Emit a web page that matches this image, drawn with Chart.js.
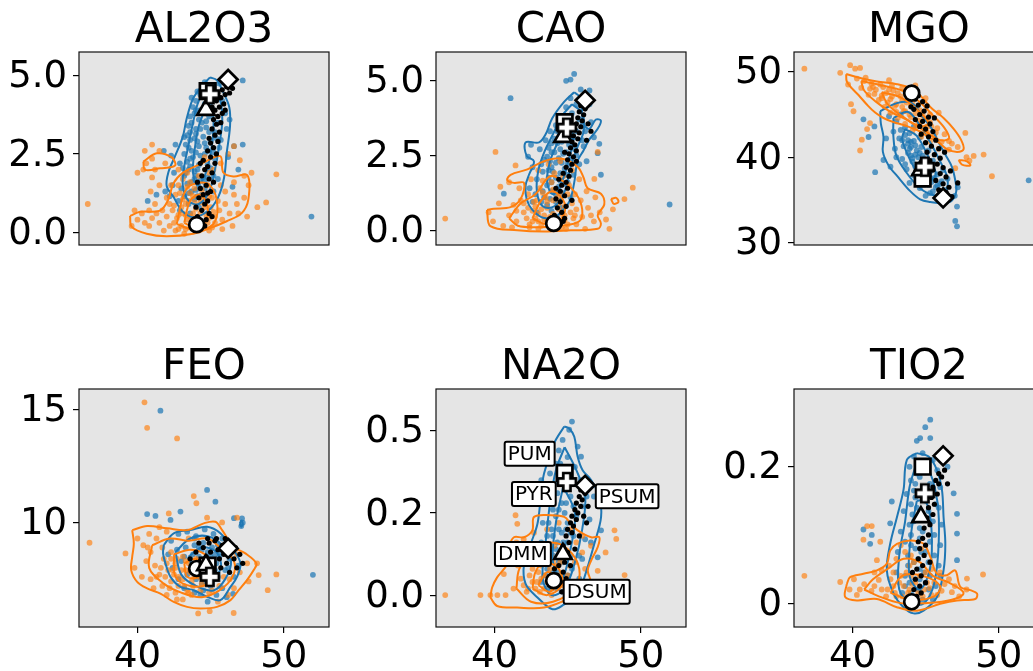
<!DOCTYPE html>
<html>
<head>
<meta charset="utf-8">
<script src="https://cdn.jsdelivr.net/npm/chart.js@4.4.1/dist/chart.umd.min.js"></script>
<style>
  body { margin: 0; width: 1033px; height: 671px; overflow: hidden; background: #fff; position: relative; }
  canvas { position: absolute; }
</style>
</head>
<body>
<canvas id="al2o3_chart" width="345" height="330" style="left:0;top:0"></canvas>
<canvas id="cao_chart" width="357" height="330" style="left:345px;top:0"></canvas>
<canvas id="mgo_chart" width="370" height="330" style="left:690px;top:0"></canvas>
<canvas id="feo_chart" width="345" height="334" style="left:0;top:337px"></canvas>
<canvas id="na2o_chart" width="357" height="334" style="left:345px;top:337px"></canvas>
<canvas id="tio2_chart" width="370" height="334" style="left:690px;top:337px"></canvas>
<script>
// shared x axis (SiO2)
const xRange = [36.0, 53.1];
const xTicks = [40, 50];

// reference compositions, drawn as white markers
const refNames = ["DSUM", "DMM", "PUM", "PYR", "PSUM"];
const refSiO2 = [44.05, 44.68, 44.8, 44.95, 46.2];
const refAl2O3 = [0.24, 3.91, 4.51, 4.41, 4.88];
const refCaO = [0.23, 3.11, 3.60, 3.42, 4.33];
const refMgO = [47.5, 38.5, 37.5, 38.9, 35.25];
const refFeO = [7.97, 8.12, 8.1, 7.6, 8.86];
const refNa2O = [0.044, 0.125, 0.372, 0.344, 0.334];
const refTiO2 = [0.002, 0.126, 0.2, 0.161, 0.216];

// ---------- AL2O3 ----------
const al2o3Range = [-0.41, 5.76];
const al2o3Ticks = [0, 2.5, 5];
const al2o3TickLabels = ["0.0", "2.5", "5.0"];
const al2o3Blue = [[44.6,4.8],[44.9,4.6],[45.2,4.7],[45.6,4.75],[46.5,4.85],[46.3,4.7],[44.3,4.4],[44.8,4.3],[45.4,4.4],[44.0,4.2],[45.8,4.2],[43.8,4.0],[44.5,3.9],[45.1,3.95],[46.0,3.8],[43.6,3.7],[44.2,3.6],[44.9,3.7],[45.5,3.5],[46.3,3.6],[43.5,3.4],[44.0,3.3],[44.7,3.35],[45.3,3.2],[46.1,3.3],[43.4,3.1],[43.9,3.0],[44.5,3.05],[45.0,2.9],[45.7,2.95],[43.3,2.8],[44.2,2.75],[44.8,2.6],[45.6,2.7],[46.6,2.75],[42.6,2.8],[43.2,2.5],[43.8,2.4],[44.5,2.3],[45.3,2.35],[46.2,2.4],[42.9,2.2],[43.6,2.1],[44.1,2.0],[45.0,2.05],[42.5,1.9],[43.2,1.8],[43.9,1.7],[44.6,1.6],[45.5,1.7],[42.4,1.5],[43.0,1.4],[43.7,1.3],[44.4,1.2],[45.2,1.3],[41.9,1.3],[42.2,1.15],[41.3,1.2],[40.7,1.0],[42.8,1.0],[43.5,0.9],[44.2,0.8],[42.9,0.7],[43.6,0.6],[51.9,0.5],[47.2,2.8],[46.9,2.0],[46.5,1.45],[41.8,2.6],[42.3,2.45],[47.2,4.85],[43.2,3.04],
  [44.1,4.5],[44.6,4.1],[43.9,3.8],[44.4,3.5],[44.0,3.15],[44.6,2.85],[43.7,2.6],[44.3,2.45],[43.4,2.25],[44.8,2.15],[43.9,1.95],[44.3,1.65],[43.4,1.55],[44.0,1.35],[43.2,1.15],[43.9,1.05],[44.6,1.4],[45.2,1.8],[45.2,2.55],[45.4,3.0],[44.3,3.9],[45.0,4.15],[43.6,2.95],[44.7,3.55],[43.1,2.05],
  [43.7,4.3],[44.4,4.6],[44.0,3.9],[44.7,3.8],[43.7,3.5],[44.3,3.3],[44.9,3.2],[43.6,3.2],[44.1,2.9],[44.7,2.7],[43.5,2.7],[44.0,2.55],[44.6,2.5],[43.6,2.35],[44.2,2.15],[44.7,2.0],[43.5,2.0],[44.0,1.8],[44.5,1.75],[43.7,1.6],[44.2,1.45],[44.8,1.75],[43.5,1.25],[44.1,1.15],[43.3,1.9]];
const al2o3Orange = [[42.5,0.3],[43.0,0.2],[43.4,0.4],[42.0,0.5],[41.5,0.3],[41.0,0.45],[40.5,0.3],[40.0,0.4],[39.6,0.2],[44.8,0.3],[45.3,0.5],[45.8,0.4],[46.3,0.6],[46.8,0.9],[47.3,1.1],[47.6,1.5],[47.3,1.8],[46.6,1.6],[46.0,1.3],[45.5,1.0],[45.0,0.8],[44.5,1.1],[43.9,1.4],[43.5,1.0],[43.0,0.8],[42.6,1.2],[42.2,0.9],[41.7,0.7],[41.2,0.9],[40.8,0.7],[43.8,0.6],[44.2,1.8],[43.6,1.6],[44.8,1.5],[45.2,2.0],[45.7,2.2],[43.1,1.7],[42.8,2.0],[44.0,0.1],[43.2,-0.05],[41.8,0.05],[45.8,0.1],[46.5,0.2],[40.3,0.6],[39.8,0.7],[40.6,2.2],[41.0,2.35],[41.5,2.6],[41.2,2.0],[40.0,1.9],[40.5,2.6],[41.0,2.8],[41.9,2.2],[36.6,0.9],[49.5,1.85],[48.8,0.95],[48.2,0.8],[47.8,1.9],[47.0,2.3],[46.6,2.75],[46.2,2.5],[47.5,0.5],[44.6,2.4],[42.3,1.5],[41.5,1.5],[40.9,1.3],[45.6,0.7],[44.1,0.4],[42.8,0.55],[43.7,0.25],
  [42.2,0.2],[42.8,0.1],[43.6,0.15],[44.4,0.2],[45.1,0.15],[42.4,0.7],[43.3,0.55],[44.0,0.75],[44.7,0.55],[45.3,0.3],[42.0,1.1],[42.9,1.25],[43.6,1.25],[44.3,0.95],[45.1,1.1],[41.3,0.6],[40.8,0.2],[46.0,0.9],[46.6,1.2],[45.7,1.5],[44.9,1.9],[43.4,1.9],[41.0,1.75],[40.4,2.0],[46.9,0.6],
  [42.6,0.05],[43.3,0.1],[44.2,0.05],[44.9,0.05],[42.7,0.45],[43.1,0.6],[43.6,0.5],[44.3,0.6],[44.9,0.45],[42.5,0.85],[43.3,0.9],[43.9,0.95],[44.6,0.8],[45.2,0.65],[43.1,1.05],[43.8,1.15],[44.4,1.35],[44.9,1.15],[43.4,1.45],[42.8,1.5]];
const al2o3Black = [[44.3,0.3],[44.7,0.4],[44.1,0.5],[44.9,0.6],[44.4,0.7],[44.0,0.8],[44.6,0.9],[44.8,1.0],[44.2,1.1],[44.5,1.2],[45.0,1.3],[44.3,1.4],[44.7,1.5],[44.1,1.6],[44.9,1.7],[44.4,1.8],[45.1,1.9],[44.6,2.0],[44.8,2.1],[45.3,2.2],[44.5,2.3],[45.0,2.4],[45.4,2.5],[44.8,2.6],[45.2,2.7],[45.0,2.85],[45.5,2.9],[44.9,3.0],[45.3,3.1],[45.6,3.2],[45.1,3.3],[45.4,3.45],[45.7,3.5],[45.2,3.6],[45.5,3.7],[45.8,3.8],[45.3,3.9],[45.6,4.0],[45.9,4.1],[45.4,4.2],[45.7,4.3],[46.0,4.4],[45.5,4.45],[45.8,4.55],[46.1,4.65],[45.6,4.3],[44.6,0.2],[45.1,0.5],[43.9,0.35],[44.8,1.25],[44.3,2.2],[45.2,1.6],[46.0,3.9],[46.3,4.45],[45.1,4.0],[46.5,4.6]];
const al2o3BlueContours = [
  [[44.96,4.95],[44.28,4.6],[43.78,4.25],[43.37,3.64],[43.09,3.04],[42.57,2.43],[42.11,1.91],[42.0,1.47],[42.46,1.13],[43.03,0.69],[43.82,0.48],[44.85,0.69],[45.53,1.13],[45.92,1.73],[46.1,2.52],[46.33,3.39],[46.28,3.99],[45.83,4.51],[45.42,4.86]],
  [[44.9,4.6],[44.2,4.2],[43.8,3.5],[43.5,2.8],[43.2,2.1],[43.1,1.5],[43.5,1.0],[44.2,0.9],[44.9,1.3],[45.3,2.0],[45.6,2.8],[45.8,3.6],[45.6,4.3]],
  [[44.7,4.0],[44.2,3.4],[43.9,2.6],[43.8,1.9],[44.1,1.5],[44.6,1.8],[45.0,2.5],[45.2,3.3],[45.1,3.9]]
];
const al2o3OrangeContours = [
  [[39.49,0.52],[39.61,0.17],[40.63,-0.05],[42.0,-0.13],[43.82,-0.05],[44.96,0.13],[46.1,0.35],[47.13,0.61],[47.58,1.04],[47.52,1.82],[46.56,1.78],[45.87,1.91],[45.65,2.43],[44.28,2.17],[43.14,1.91],[42.46,1.56],[42.11,1.04],[41.54,0.69],[40.18,0.65]],
  [[40.4,2.26],[41.32,2.52],[42.34,2.39],[42.57,2.13],[41.54,2.04],[40.52,1.99]],
  [[42.68,0.26],[43.37,1.39],[44.73,1.56],[45.42,1.04],[45.19,0.26],[43.82,0.09]],
  [[43.2,0.3],[43.6,1.0],[44.3,1.2],[44.8,0.8],[44.6,0.3],[43.9,0.15]]
];

// ---------- CAO ----------
const caoRange = [-0.49, 5.94];
const caoTicks = [0, 2.5, 5];
const caoTickLabels = ["0.0", "2.5", "5.0"];
const caoBlue = [[45.45,5.21],[44.9,4.98],[45.2,5.02],[46.5,4.66],[45.9,4.69],[41.1,4.4],[51.98,0.86],[47.17,2.88],[47.06,2.57],[47.28,1.85],[40.64,1.22],[45.2,4.4],[45.6,4.2],[44.9,4.1],[45.3,3.9],[44.5,3.8],[45.8,3.7],[46.6,3.6],[44.2,3.5],[45.0,3.4],[46.2,3.3],[43.8,3.3],[44.6,3.2],[45.4,3.1],[46.8,3.1],[43.5,3.0],[44.3,2.9],[45.1,2.85],[46.1,2.8],[42.5,2.85],[43.1,2.7],[43.9,2.6],[44.7,2.55],[45.6,2.5],[42.3,2.45],[43.4,2.35],[44.2,2.25],[45.0,2.2],[46.3,2.3],[42.6,2.1],[43.7,2.0],[44.5,1.9],[45.4,1.85],[42.9,1.7],[43.9,1.6],[44.8,1.55],[42.4,1.4],[43.3,1.3],[44.2,1.2],[45.2,1.1],[42.6,0.95],[43.6,0.85],[44.6,0.75],[42.9,0.6],[46.5,4.2],[46.0,3.5],
  [44.6,3.5],[44.1,3.05],[44.9,3.0],[43.7,2.75],[44.5,2.7],[43.6,2.45],[44.4,2.4],[45.2,2.35],[43.2,2.2],[43.9,2.1],[44.8,2.05],[43.3,1.95],[44.2,1.75],[43.6,1.5],[44.4,1.45],[42.8,1.2],[43.8,1.05],[44.5,1.0],[43.2,0.95],[43.9,0.65],[45.6,3.3],[46.0,3.0],[45.8,2.2],[44.3,0.4],[45.1,3.65],
  [44.8,3.75],[44.3,3.3],[44.8,3.3],[43.9,2.9],[44.6,2.95],[44.1,2.6],[44.9,2.6],[43.8,2.3],[44.6,2.25],[44.0,1.95],[44.9,1.85],[43.7,1.75],[44.5,1.65],[43.9,1.3],[44.6,1.25],[43.4,1.1],[44.2,0.95],[45.0,1.6],[45.5,2.7],[45.2,3.0]];
const caoOrange = [[36.63,0.39],[40.07,2.61],[41.44,2.16],[49.46,1.42],[48.89,1.04],[47.86,0.05],[47.63,0.36],[47.06,2.61],[46.83,1.71],[40.3,0.9],[39.9,0.3],[39.6,0.6],[40.4,1.45],[41.0,1.6],[48.1,0.7],[41.0,0.5],[41.5,0.3],[42.0,0.6],[42.4,0.2],[42.8,0.4],[43.2,0.7],[43.6,0.3],[44.0,0.55],[44.4,0.9],[44.8,0.35],[45.2,0.6],[45.6,0.2],[46.0,0.45],[46.4,0.75],[46.8,0.3],[47.2,0.6],[41.3,0.85],[41.8,1.0],[42.3,1.2],[42.7,0.95],[43.1,1.4],[43.5,1.1],[43.9,1.6],[44.3,1.3],[44.7,1.8],[45.1,1.5],[45.5,1.2],[45.9,1.0],[46.3,1.3],[46.9,1.1],[42.5,1.7],[43.0,2.0],[43.7,2.2],[44.5,2.3],[45.3,2.0],[45.8,1.7],[41.7,1.4],[41.2,0.1],[43.0,0.05],[44.6,0.1],[46.2,0.05],[40.6,0.15],
  [42.2,0.4],[42.6,0.65],[43.0,0.3],[43.4,0.5],[43.8,0.15],[44.2,0.35],[44.6,0.55],[45.0,0.2],[45.4,0.4],[42.0,0.9],[42.8,0.8],[43.6,0.75],[44.0,1.0],[44.8,0.8],[45.6,0.7],[43.3,1.65],[44.1,1.9],[45.0,1.2],[46.6,0.5],[41.5,0.65],
  [42.4,0.1],[43.2,0.15],[44.0,0.1],[44.9,0.05],[42.6,0.3],[43.4,0.35],[44.0,0.3],[44.8,0.5],[42.3,0.75],[43.0,0.55],[43.8,0.45],[44.4,0.7],[45.3,0.9],[42.9,1.0],[43.6,0.95],[44.3,1.1],[43.3,1.25],[44.0,1.35],[44.7,1.2],[45.5,0.5]];
const caoBlack = [[44.0,0.15],[44.5,0.2],[44.3,0.35],[44.8,0.4],[44.1,0.5],[44.6,0.6],[44.3,0.75],[44.9,0.8],[44.5,0.95],[44.2,1.05],[44.8,1.15],[44.5,1.3],[45.0,1.4],[44.6,1.5],[44.9,1.6],[44.4,1.7],[45.1,1.8],[44.7,1.9],[45.2,2.0],[44.9,2.1],[45.3,2.2],[45.0,2.35],[45.4,2.45],[45.1,2.55],[45.6,2.65],[45.2,2.75],[45.5,2.85],[45.3,2.95],[45.7,3.05],[45.4,3.15],[45.8,3.25],[45.5,3.35],[45.9,3.45],[45.6,3.55],[46.0,3.65],[45.7,3.75],[46.1,3.85],[45.8,3.95],[46.2,4.05],[46.4,3.55],[46.6,3.3],[45.9,4.15],[44.7,0.3],[45.3,1.0],[44.2,1.4],[45.6,2.3],[46.3,3.0],[44.8,2.6]];
const caoBlueContours = [
  [[45.45,4.6],[44.76,4.28],[43.96,3.74],[43.5,3.2],[43.05,2.93],[42.13,2.93],[42.2,2.48],[42.7,2.3],[42.36,1.85],[42.13,1.49],[42.2,1.04],[42.59,0.68],[43.39,0.41],[44.31,0.5],[45.11,0.95],[45.45,1.58],[45.68,2.3],[46.09,2.66],[46.48,3.02],[47.06,3.38],[47.28,3.65],[46.94,3.69],[46.48,3.38],[46.09,3.56],[45.96,4.1],[45.8,4.46]],
  [[45.3,4.2],[44.6,3.8],[44.0,3.2],[43.4,2.6],[43.0,2.0],[42.9,1.3],[43.3,0.8],[44.1,0.8],[44.8,1.3],[45.2,2.1],[45.7,2.8],[46.1,3.3],[46.0,3.9]],
  [[45.0,3.6],[44.4,3.0],[43.8,2.3],[43.6,1.6],[44.0,1.2],[44.6,1.6],[45.1,2.4],[45.4,3.1]]
];
const caoOrangeContours = [
  [[39.49,0.68],[39.72,0.14],[41.56,0.0],[43.39,-0.04],[45.22,0.0],[47.06,0.05],[47.28,0.23],[47.06,0.5],[47.51,0.86],[47.28,1.22],[46.37,1.4],[46.09,1.76],[45.68,2.12],[44.54,2.39],[43.39,2.3],[42.25,2.03],[41.1,1.85],[40.87,1.67],[41.33,1.58],[42.02,1.58],[41.79,1.04],[41.1,0.77],[39.95,0.72]],
  [[47.97,1.04],[48.32,1.08],[48.48,0.95],[48.16,0.88]],
  [[41.0,0.4],[41.6,0.15],[43.0,0.1],[44.6,0.15],[45.8,0.3],[46.0,0.7],[45.6,1.2],[44.8,1.6],[43.8,1.8],[42.8,1.2],[41.8,0.9]],
  [[42.6,0.4],[43.6,0.2],[44.6,0.4],[44.8,0.9],[44.0,1.3],[43.2,1.0]]
];

// ---------- MGO ----------
const mgoRange = [29.75, 52.3];
const mgoTicks = [30, 40, 50];
const mgoTickLabels = ["30", "40", "50"];
const mgoBlue = [[41.55,38.26],[52.05,37.31],[47.03,32.56],[47.15,31.93],[47.15,34.24],[42.12,39.68],[41.1,42.37],[40.75,44.43],[41.5,43.6],[47.2,36.5],[47.0,35.5],[42.5,44.8],[43.0,44.2],[43.3,45.0],[43.6,43.5],[42.8,43.0],[43.2,42.2],[43.9,42.8],[44.2,41.9],[43.5,41.3],[42.9,41.0],[44.4,40.8],[43.8,40.5],[44.8,40.2],[43.4,39.8],[44.1,39.5],[45.0,39.3],[44.5,38.8],[43.7,38.6],[45.3,38.3],[44.2,37.9],[45.6,37.6],[44.8,37.3],[43.9,37.0],[45.2,36.8],[46.0,36.9],[44.6,36.4],[45.5,36.0],[46.3,36.2],[45.0,35.5],[45.8,35.2],[46.5,35.0],[44.6,42.3],[45.2,40.8],[45.5,39.6],[46.2,38.5],[46.5,37.5],[42.3,42.2],[43.0,40.0],[42.6,38.9],
  [43.3,43.2],[43.8,42.0],[44.0,41.2],[44.5,40.0],[44.0,40.2],[44.9,39.8],[44.6,39.0],[45.1,38.6],[44.4,38.3],[45.0,37.9],[45.4,37.1],[44.9,36.8],[45.7,36.5],[45.3,35.8],[43.6,42.6],[44.3,41.4],[43.6,39.2],[45.8,38.0],[46.1,37.2],[44.2,43.6],
  [43.4,42.0],[44.0,41.8],[43.9,41.0],[44.6,40.5],[44.1,39.9],[44.7,39.4],[44.3,38.9],[44.9,38.4],[44.6,37.7],[45.3,37.6],[45.0,36.9],[45.8,36.7],[44.3,40.3],[43.8,41.6],[44.7,41.2]];
const mgoOrange = [[36.71,50.35],[39.16,49.87],[39.84,50.76],[40.18,50.35],[40.52,50.44],[40.07,45.38],[40.52,40.79],[40.64,42.06],[49.54,37.78],[48.97,40.32],[48.29,40.16],[47.72,42.85],[47.03,38.73],[39.7,48.5],[39.9,46.2],[41.2,44.0],[41.0,43.3],[47.8,40.0],[48.0,39.6],[40.3,49.2],[40.8,48.9],[41.3,48.6],[40.6,48.1],[41.6,47.9],[42.1,48.2],[41.1,47.3],[42.3,47.5],[42.8,47.8],[41.8,46.7],[42.6,46.8],[43.3,47.1],[42.2,45.9],[43.0,46.2],[43.7,46.4],[42.6,45.2],[43.5,45.4],[44.2,45.7],[43.1,44.6],[44.0,44.7],[44.8,44.9],[43.6,43.9],[44.5,43.8],[45.3,44.1],[44.1,43.1],[45.0,43.2],[45.8,43.4],[44.7,42.4],[45.6,42.5],[46.3,42.7],[45.3,41.8],[46.1,41.8],[46.8,41.6],[45.9,41.0],[46.6,40.9],[47.2,41.2],[44.3,48.4],[45.0,46.9],[45.9,45.2],[42.5,49.0],
  [41.4,48.2],[42.0,47.2],[42.7,48.4],[43.4,48.1],[43.8,47.5],[42.9,46.0],[43.4,45.9],[44.1,46.3],[44.6,45.5],[43.9,45.0],[44.5,44.3],[45.3,45.0],[45.1,43.6],[45.7,42.9],[44.3,43.4],[42.4,46.4],[41.5,47.4],[40.9,49.3],[43.0,45.3],[46.6,41.9],
  [41.9,48.5],[42.5,47.9],[43.1,47.5],[42.7,47.1],[43.4,46.6],[44.0,46.0],[43.6,45.4],[44.3,45.1],[44.9,44.5],[44.6,43.9],[45.4,43.6],[45.1,42.9],[42.0,46.9],[41.2,48.0],[43.9,47.3]];
const mgoBlack = [[44.3,46.8],[44.8,46.5],[44.5,46.1],[45.1,46.0],[44.2,45.6],[44.9,45.4],[44.6,45.0],[45.2,44.7],[44.3,44.4],[44.8,44.2],[45.3,43.9],[44.6,43.6],[45.0,43.3],[45.5,43.0],[44.7,42.7],[45.2,42.4],[45.7,42.0],[45.0,41.7],[45.4,41.3],[45.9,41.0],[45.1,40.6],[45.6,40.3],[46.0,39.9],[45.3,39.6],[45.8,39.2],[46.2,38.8],[45.5,38.5],[46.0,38.1],[46.4,37.7],[45.7,37.3],[46.2,36.9],[46.6,36.5],[45.9,36.2],[46.4,35.9],[46.8,35.4],[44.5,47.2],[44.0,45.9],[45.6,44.6],[46.3,40.6],[46.7,38.4],[47.2,37.0]];
const mgoBlueContours = [
  [[41.9,45.38],[43.04,46.33],[44.06,46.33],[44.86,44.59],[45.43,43.32],[45.89,41.74],[46.35,40.32],[46.8,38.89],[47.03,37.31],[47.1,36.04],[46.8,34.94],[46.23,34.62],[45.32,34.78],[44.63,35.09],[43.95,36.04],[43.15,37.63],[42.47,39.05],[42.08,40.63],[42.12,42.37],[41.94,43.96]],
  [[42.8,44.6],[43.8,45.3],[44.5,44.0],[45.3,41.8],[46.0,39.5],[46.5,37.5],[46.3,35.8],[45.5,35.6],[44.6,36.4],[43.7,38.2],[43.0,40.2],[42.8,42.4]],
  [[43.6,43.3],[44.4,42.5],[45.2,40.0],[45.7,38.0],[45.1,37.2],[44.3,38.6],[43.7,40.6],[43.4,42.2]]
];
const mgoOrangeContours = [
  [[39.57,49.72],[40.75,49.18],[41.67,48.86],[43.04,48.54],[44.18,47.91],[44.86,46.8],[45.43,45.7],[46.23,44.59],[46.92,43.32],[47.42,42.06],[47.6,40.95],[47.15,40.63],[46.46,40.95],[45.89,41.74],[45.21,42.37],[44.63,43.01],[43.72,43.64],[42.81,44.11],[42.12,44.59],[41.55,45.22],[40.98,46.17],[40.41,47.28],[39.95,48.07],[39.61,48.86]],
  [[47.26,39.68],[47.83,39.53],[48.06,39.05],[47.49,39.15]],
  [[40.6,48.9],[42.0,48.4],[43.4,47.8],[44.5,46.6],[45.5,44.9],[46.3,43.4],[46.6,42.2],[46.0,42.0],[45.0,43.0],[43.8,44.3],[42.6,45.3],[41.6,46.5],[40.8,47.8]],
  [[42.0,47.6],[43.3,47.0],[44.4,45.6],[45.2,44.0],[44.6,43.6],[43.4,44.8],[42.4,46.2]]
];

// ---------- FEO ----------
const feoRange = [5.38, 15.92];
const feoTicks = [10, 15];
const feoTickLabels = ["10", "15"];
const feoBlue = [[41.57,14.96],[44.76,11.45],[45.33,10.93],[42.94,10.49],[40.66,10.38],[41.23,10.3],[42.26,10.12],[52.0,7.69],[46.54,6.85],[47.15,10.19],[47.2,10.0],[47.1,9.85],[46.6,10.2],[42.3,9.2],[42.8,9.5],[43.4,9.6],[44.0,9.4],[44.6,9.7],[45.2,9.5],[45.8,9.3],[46.4,9.0],[42.1,8.6],[42.7,8.8],[43.3,8.9],[43.9,9.0],[44.5,9.1],[45.1,8.9],[45.7,8.7],[46.3,8.4],[46.9,8.1],[42.4,8.0],[43.0,8.3],[43.6,8.4],[44.2,8.5],[44.8,8.3],[45.4,8.2],[46.0,7.9],[46.6,7.6],[42.8,7.5],[43.4,7.7],[44.0,7.8],[44.6,7.4],[45.2,7.5],[45.8,7.1],[43.2,7.1],[43.9,6.9],[44.5,7.0],[45.4,6.8],[46.1,6.7],[44.8,6.5],
  [43.2,8.5],[43.8,8.6],[44.4,8.8],[45.0,8.5],[45.6,8.5],[44.1,8.1],[44.7,7.9],[45.3,7.9],[44.4,7.3],[45.0,7.2],[43.6,7.9],[46.2,8.0],[45.5,9.0],[43.9,9.3],[44.3,6.8],
  [44.2,8.9],[44.8,8.7],[45.3,8.6],[44.5,8.4],[45.1,8.2],[44.2,7.9],[44.9,7.7],[45.5,7.6],[44.0,7.5],[43.7,8.2]];
const feoOrange = [[40.48,15.33],[40.66,14.2],[42.71,13.73],[43.85,11.18],[44.03,10.86],[36.72,9.11],[39.18,8.64],[49.5,7.71],[48.91,7.01],[48.29,7.68],[48.18,8.2],[44.15,5.98],[44.94,6.08],[46.58,6.0],[42.14,10.41],[44.76,10.22],[45.79,10.01],[46.81,10.22],[40.8,9.5],[40.0,9.3],[39.8,8.0],[40.4,9.0],[40.9,8.7],[41.3,9.3],[41.7,8.9],[40.6,8.3],[41.2,8.1],[41.8,8.4],[42.3,8.7],[40.3,7.6],[40.9,7.5],[41.5,7.7],[42.1,7.9],[42.6,8.2],[43.1,8.5],[41.1,7.1],[41.7,7.2],[42.3,7.4],[42.8,7.6],[43.3,7.9],[43.8,8.1],[42.0,6.8],[42.6,6.9],[43.2,7.2],[43.7,7.4],[44.2,7.6],[43.1,6.6],[43.7,6.8],[44.3,7.0],[44.9,6.9],[45.6,7.2],[46.3,7.5],[47.0,7.8],[47.5,8.2],[46.8,8.6],[45.5,6.5],[46.2,6.8],[47.6,7.4],[42.0,9.6],[43.5,9.3],[41.5,9.8],
  [42.0,8.2],[42.5,7.7],[43.0,7.9],[43.5,8.2],[43.9,7.6],[44.4,7.3],[43.4,7.0],[42.8,7.2],[44.0,8.4],[42.3,8.4],[41.6,8.0],[41.3,7.6],[42.7,6.6],[44.6,7.8],[45.1,7.0],[45.9,7.6],[46.6,7.1],[40.7,8.9],
  [42.7,8.4],[43.3,8.3],[43.6,7.8],[43.1,7.5],[42.6,8.0],[44.1,7.9],[43.8,7.2],[42.2,7.1],[41.9,7.6],[44.8,7.5],[43.5,6.9],[42.4,7.9]];
const feoBlack = [[43.6,8.4],[44.0,8.7],[44.3,8.3],[44.5,8.9],[44.7,8.5],[44.9,9.1],[45.0,8.7],[45.2,8.3],[45.3,9.2],[45.5,8.8],[45.6,8.4],[45.8,9.0],[45.9,8.6],[46.1,8.2],[46.2,9.2],[46.4,8.8],[46.6,8.4],[46.8,8.0],[47.0,8.6],[44.2,9.1],[44.6,8.1],[45.1,7.9],[45.7,8.0],[46.3,7.8],[43.9,8.0],[44.8,9.3],[45.4,9.3],[46.0,9.3],[46.7,8.9],[47.2,8.2]];
const feoBlueContours = [
  [[41.8,9.01],[42.48,9.53],[43.62,9.67],[44.76,9.82],[45.67,9.53],[46.58,8.79],[47.04,8.2],[46.81,7.6],[46.36,7.16],[45.67,6.57],[44.76,6.72],[43.85,7.01],[42.94,7.16],[42.26,7.6],[41.91,8.2],[41.75,8.64]],
  [[47.0,9.95],[47.1,10.1],[47.2,9.95],[47.1,9.82]],
  [[42.6,8.7],[43.6,9.3],[44.8,9.4],[45.8,9.0],[46.4,8.3],[46.0,7.5],[45.2,7.0],[44.0,7.2],[43.0,7.7]],
  [[43.5,8.5],[44.4,8.9],[45.4,8.7],[45.7,8.0],[45.0,7.5],[44.0,7.7]]
];
const feoOrangeContours = [
  [[39.64,9.67],[40.66,9.85],[42.03,9.75],[43.39,9.67],[44.53,9.97],[45.33,10.04],[45.79,9.67],[46.58,8.93],[47.38,8.64],[48.13,8.2],[47.95,7.9],[47.49,7.46],[46.92,7.01],[46.36,6.57],[45.44,6.27],[44.31,6.2],[43.39,6.27],[42.48,6.49],[41.57,6.86],[40.66,7.09],[39.98,7.38],[39.57,7.9],[39.64,8.49],[39.75,9.08]],
  [[41.0,9.0],[42.2,9.3],[43.5,9.2],[44.8,9.3],[45.8,8.8],[46.6,8.3],[46.5,7.6],[45.6,7.0],[44.4,6.7],[43.0,6.9],[41.8,7.3],[40.8,8.0]],
  [[42.5,8.6],[43.6,8.8],[44.6,8.6],[45.2,8.0],[44.8,7.3],[43.6,7.2],[42.6,7.6]],
  [[43.2,8.2],[44.0,8.4],[44.6,8.0],[44.2,7.6],[43.4,7.6]]
];

// ---------- NA2O ----------
const na2oRange = [-0.097, 0.627];
const na2oTicks = [0, 0.25, 0.5];
const na2oTickLabels = ["0.0", "0.2", "0.5"];
const na2oBlue = [[45.3,0.528],[45.11,0.503],[44.66,0.472],[45.69,0.452],[45.92,0.421],[47.29,0.197],[47.06,0.115],[43.2,0.35],[47.2,0.28],[44.4,0.44],[45.0,0.42],[44.2,0.4],[45.5,0.39],[43.8,0.37],[44.6,0.36],[45.9,0.35],[43.6,0.33],[44.3,0.31],[45.2,0.3],[46.3,0.3],[43.4,0.28],[44.0,0.26],[44.8,0.25],[45.6,0.24],[46.5,0.23],[43.3,0.22],[43.9,0.2],[44.6,0.19],[45.4,0.18],[46.2,0.17],[43.2,0.16],[43.8,0.14],[44.5,0.13],[45.2,0.12],[46.0,0.11],[43.0,0.1],[43.6,0.08],[44.3,0.07],[45.0,0.06],[45.8,0.05],[43.2,0.04],[43.9,0.02],[44.7,0.01],[45.5,0.0],[46.6,0.16],[46.8,0.3],
  [44.5,0.4],[44.1,0.34],[44.9,0.32],[43.9,0.3],[44.6,0.28],[45.4,0.27],[44.2,0.24],[45.0,0.22],[43.7,0.22],[44.4,0.2],[45.2,0.19],[43.6,0.18],[44.3,0.16],[45.0,0.16],[44.0,0.12],[44.7,0.1],[43.4,0.12],[44.1,0.05],[45.3,0.08],[46.0,0.27],[45.8,0.12],[43.6,0.02],
  [44.5,0.34],[44.9,0.28],[44.4,0.26],[44.9,0.2],[44.0,0.18],[44.7,0.16],[44.2,0.14],[44.9,0.13],[43.7,0.1],[44.4,0.1],[44.0,0.07],[44.6,0.06],[43.5,0.06],[45.0,0.03],[44.3,0.02]];
const na2oOrange = [[36.63,0.0],[39.04,0.0],[39.72,0.0],[40.2,0.0],[40.76,0.0],[41.44,0.243],[41.56,0.217],[40.64,0.064],[48.9,0.061],[48.33,0.171],[48.21,0.197],[47.06,0.074],[41.1,0.1],[47.6,0.13],[47.4,0.04],[41.3,0.02],[41.8,0.05],[42.2,0.01],[42.6,0.04],[43.0,0.07],[43.4,0.02],[43.8,0.05],[44.2,0.09],[44.6,0.03],[45.0,0.06],[45.4,0.02],[45.8,0.04],[41.7,0.12],[42.3,0.1],[42.9,0.13],[43.5,0.11],[44.1,0.15],[44.8,0.12],[45.5,0.1],[46.2,0.08],[46.6,0.15],[42.0,0.17],[42.7,0.19],[43.6,0.2],[44.4,0.22],[45.2,0.2],[46.0,0.18],[41.5,0.16],
  [42.0,0.03],[42.4,0.06],[42.8,0.02],[43.2,0.05],[43.6,0.04],[44.0,0.02],[44.4,0.06],[43.2,0.09],[42.6,0.08],[43.9,0.12],[44.5,0.1],[45.1,0.09],[42.2,0.13],[41.6,0.09],[46.0,0.13],[45.6,0.16],
  [42.3,0.02],[42.9,0.04],[43.4,0.06],[43.8,0.08],[44.3,0.04],[43.1,0.01],[43.9,0.0],[42.5,0.1],[43.3,0.12],[44.0,0.1]];
const na2oBlack = [[44.2,0.03],[44.5,0.04],[44.3,0.06],[44.7,0.07],[44.4,0.09],[44.8,0.1],[44.6,0.12],[45.0,0.13],[44.7,0.15],[45.1,0.16],[44.9,0.18],[45.3,0.19],[45.0,0.2],[45.4,0.21],[45.2,0.22],[45.6,0.23],[45.3,0.24],[45.7,0.25],[45.5,0.26],[45.9,0.27],[45.6,0.28],[46.0,0.29],[45.8,0.3],[46.2,0.31],[45.9,0.32],[46.4,0.27],[46.3,0.22],[44.9,0.05],[45.2,0.09],[45.5,0.14],[45.8,0.18],[46.1,0.24],[44.1,0.08],[44.6,0.01]];
const na2oBlueContours = [
  [[44.77,0.513],[44.08,0.462],[43.39,0.37],[43.17,0.3],[42.94,0.217],[42.48,0.156],[42.02,0.095],[42.13,0.034],[42.94,-0.007],[43.97,-0.043],[44.77,-0.028],[45.69,0.003],[46.15,0.054],[46.83,0.156],[47.29,0.237],[47.17,0.299],[46.61,0.35],[46.03,0.38],[45.69,0.421],[45.46,0.482],[45.11,0.507]],
  [[44.8,0.45],[44.2,0.38],[43.8,0.28],[43.5,0.16],[43.3,0.05],[43.9,0.0],[44.8,0.02],[45.5,0.1],[46.0,0.2],[46.2,0.3],[45.6,0.38]],
  [[44.7,0.33],[44.2,0.22],[44.0,0.1],[44.6,0.05],[45.2,0.14],[45.5,0.25]]
];
const na2oOrangeContours = [
  [[39.72,-0.007],[40.18,-0.033],[41.56,-0.038],[43.39,-0.038],[44.77,-0.017],[46.15,0.013],[46.61,0.034],[46.38,0.074],[46.61,0.105],[47.06,0.146],[47.17,0.176],[46.61,0.176],[45.69,0.197],[45.23,0.217],[44.77,0.238],[43.85,0.243],[42.71,0.238],[42.59,0.197],[42.02,0.176],[41.33,0.176],[40.99,0.146],[40.87,0.095],[40.18,0.054],[39.84,0.023]],
  [[41.5,0.02],[42.5,-0.02],[44.0,-0.02],[45.5,0.02],[45.8,0.08],[45.0,0.14],[43.8,0.16],[42.6,0.13],[41.7,0.08]],
  [[42.6,0.02],[43.6,0.0],[44.6,0.03],[44.4,0.08],[43.4,0.1],[42.8,0.07]],
  [[43.0,0.03],[43.8,0.01],[44.2,0.05],[43.6,0.07]]
];

// ---------- TIO2 ----------
const tio2Range = [-0.035, 0.314];
const tio2Ticks = [0, 0.2];
const tio2TickLabels = ["0", "0.2"];
const tio2Blue = [[45.32,0.269],[44.98,0.258],[44.63,0.242],[45.32,0.242],[44.4,0.238],[46.92,0.161],[47.15,0.131],[47.15,0.102],[40.75,0.108],[41.32,0.1],[41.21,0.087],[42.69,0.149],[42.58,0.117],[47.15,0.063],[46.5,0.2],[44.2,0.215],[44.8,0.22],[45.5,0.21],[43.9,0.2],[45.8,0.195],[44.0,0.18],[44.6,0.185],[45.3,0.175],[46.0,0.17],[43.7,0.16],[44.3,0.155],[45.0,0.15],[45.7,0.145],[43.5,0.135],[44.1,0.13],[44.8,0.125],[45.5,0.12],[46.1,0.115],[43.3,0.105],[44.0,0.1],[44.6,0.095],[45.3,0.09],[46.0,0.085],[43.1,0.075],[43.8,0.07],[44.5,0.065],[45.2,0.06],[45.9,0.055],[43.0,0.045],[43.6,0.04],[44.3,0.035],[45.0,0.03],[45.7,0.025],[43.4,0.015],[44.1,0.01],[44.8,0.005],[45.5,0.005],
  [44.4,0.19],[45.0,0.2],[44.2,0.165],[44.8,0.16],[45.2,0.135],[44.4,0.14],[43.9,0.115],[44.6,0.11],[45.6,0.1],[43.6,0.09],[44.3,0.08],[45.0,0.075],[45.6,0.07],[43.8,0.055],[44.6,0.05],[45.3,0.04],[43.6,0.025],[44.5,0.02],[46.0,0.04],[45.9,0.14],
  [44.3,0.175],[44.9,0.17],[44.0,0.145],[44.6,0.135],[44.2,0.12],[44.8,0.105],[44.0,0.085],[44.7,0.075],[44.2,0.06],[44.9,0.045],[43.9,0.03],[44.6,0.035],[45.2,0.02],[44.0,0.015]];
const tio2Orange = [[36.71,0.04],[48.93,0.042],[47.83,0.036],[41.32,0.113],[40.75,0.093],[41.9,0.09],[41.67,0.063],[39.16,0.031],[40.1,0.035],[41.0,0.113],[39.8,0.02],[40.3,0.012],[40.8,0.028],[41.3,0.018],[41.8,0.034],[42.3,0.01],[42.8,0.025],[43.3,0.04],[43.8,0.015],[44.3,0.03],[44.8,0.01],[45.3,0.022],[45.8,0.012],[46.3,0.028],[46.8,0.016],[47.3,0.01],[47.8,0.02],[41.5,0.045],[42.5,0.055],[43.0,0.065],[43.6,0.075],[44.2,0.06],[44.7,0.08],[45.4,0.05],[46.0,0.045],[46.6,0.035],[42.0,0.048],[43.3,0.085],
  [42.0,0.02],[42.6,0.035],[43.0,0.01],[43.5,0.025],[44.0,0.04],[44.5,0.015],[45.0,0.045],[45.6,0.03],[46.1,0.018],[44.0,0.07],[42.8,0.045],[43.9,0.055],[41.5,0.025],[40.5,0.02],[47.0,0.025],
  [42.4,0.02],[42.9,0.015],[43.4,0.01],[43.9,0.02],[44.4,0.005],[44.9,0.02],[45.4,0.012],[43.2,0.03],[44.1,0.028],[44.6,0.04],[43.7,0.045],[45.1,0.03]];
const tio2Black = [[44.0,0.005],[44.4,0.01],[44.2,0.02],[44.6,0.025],[44.3,0.035],[44.7,0.04],[44.4,0.05],[44.8,0.055],[44.5,0.065],[44.9,0.07],[44.6,0.08],[45.0,0.085],[44.8,0.095],[45.2,0.1],[44.9,0.11],[45.3,0.115],[45.1,0.125],[45.5,0.13],[45.2,0.14],[45.6,0.145],[45.4,0.155],[45.8,0.16],[45.5,0.17],[45.9,0.175],[45.7,0.18],[46.1,0.185],[45.9,0.19],[46.3,0.195],[46.5,0.175],[44.1,0.045],[45.0,0.03],[45.3,0.06],[44.5,0.09],[44.7,0.015]];
const tio2BlueContours = [
  [[44.41,0.22],[43.72,0.21],[43.49,0.166],[43.04,0.126],[42.58,0.087],[42.35,0.048],[42.81,0.014],[43.49,-0.006],[44.18,-0.015],[44.86,-0.011],[45.78,0.009],[46.23,0.048],[46.35,0.087],[46.23,0.126],[46.12,0.166],[45.78,0.195],[45.21,0.215]],
  [[44.3,0.2],[43.9,0.17],[43.6,0.12],[43.2,0.07],[43.2,0.02],[44.0,0.0],[44.9,0.0],[45.6,0.03],[45.9,0.09],[45.8,0.15],[45.1,0.2]],
  [[44.4,0.15],[44.0,0.1],[43.9,0.04],[44.6,0.02],[45.3,0.05],[45.4,0.11],[45.0,0.15]]
];
const tio2OrangeContours = [
  [[39.61,0.028],[39.5,0.009],[40.3,0.004],[41.67,0.006],[43.04,-0.006],[44.41,-0.011],[46.0,-0.001],[47.15,0.004],[48.4,0.006],[48.52,0.014],[48.06,0.019],[47.37,0.024],[47.03,0.048],[46.46,0.041],[45.78,0.043],[45.32,0.068],[44.86,0.087],[43.95,0.092],[43.04,0.087],[42.58,0.077],[42.35,0.058],[41.67,0.048],[40.75,0.043],[39.84,0.038]],
  [[40.8,0.02],[41.8,0.01],[43.3,0.0],[45.0,0.0],[46.8,0.005],[47.6,0.015],[46.6,0.03],[45.5,0.04],[44.6,0.06],[43.5,0.065],[42.4,0.05],[41.4,0.035]],
  [[42.6,0.015],[44.0,0.005],[45.6,0.01],[46.0,0.025],[44.8,0.04],[43.4,0.04]]
];

// pixel offsets of the text boxes next to each reference marker (Na2O panel)
const refLabelOffsets = [[43, 11], [-40, 0], [-35, -19], [-33, 12], [42, 11]];

const FONT = "DejaVu Sans";
const BLUE = "#1f77b4";
const ORANGE = "#ff7f0e";

// filled plus marker ('P' style)
function plusMarker() {
  const c = document.createElement("canvas");
  c.width = 24; c.height = 24;
  const g = c.getContext("2d");
  const m = 12, w = 3.6, l = 9;
  g.beginPath();
  g.moveTo(m - w, m - l); g.lineTo(m + w, m - l); g.lineTo(m + w, m - w);
  g.lineTo(m + l, m - w); g.lineTo(m + l, m + w); g.lineTo(m + w, m + w);
  g.lineTo(m + w, m + l); g.lineTo(m - w, m + l); g.lineTo(m - w, m + w);
  g.lineTo(m - l, m + w); g.lineTo(m - l, m - w); g.lineTo(m - w, m - w);
  g.closePath();
  g.fillStyle = "#fff"; g.fill();
  g.lineWidth = 2.7; g.strokeStyle = "#000"; g.lineJoin = "miter"; g.stroke();
  return c;
}
const PLUS = plusMarker();

const toXY = pts => pts.map(([x, y]) => ({ x, y }));
const closed = pts => toXY(pts.concat([pts[0]]));

// gray axes background and black frame
const axesFrame = {
  id: "axesFrame",
  beforeDatasetsDraw(chart) {
    const { ctx, chartArea: a } = chart;
    ctx.save();
    ctx.fillStyle = "#e5e5e5";
    ctx.fillRect(a.left, a.top, a.right - a.left, a.bottom - a.top);
    ctx.restore();
  },
  afterDraw(chart) {
    const { ctx, chartArea: a } = chart;
    ctx.save();
    ctx.strokeStyle = "#111";
    ctx.lineWidth = 1.2;
    ctx.strokeRect(a.left, a.top, a.right - a.left, a.bottom - a.top);
    ctx.restore();
  }
};

// boxed names next to the reference markers
const refLabels = {
  id: "refLabels",
  afterDatasetsDraw(chart, args, opts) {
    if (!opts.show) return;
    const { ctx, scales } = chart;
    ctx.save();
    ctx.font = "20px '" + FONT + "'";
    ctx.textAlign = "center";
    ctx.textBaseline = "middle";
    refNames.forEach((name, i) => {
      const px = scales.x.getPixelForValue(refSiO2[i]) + refLabelOffsets[i][0];
      const py = scales.y.getPixelForValue(opts.values[i]) + refLabelOffsets[i][1];
      const w = ctx.measureText(name).width + 6;
      const h = 24;
      ctx.beginPath();
      ctx.roundRect(px - w / 2, py - h / 2, w, h, 2);
      ctx.fillStyle = "#fff";
      ctx.fill();
      ctx.lineWidth = 2;
      ctx.strokeStyle = "#000";
      ctx.stroke();
      ctx.fillStyle = "#000";
      ctx.fillText(name, px, py + 1);
    });
    ctx.restore();
  }
};

function scatterSet(pts, color, radius, order) {
  return { data: toXY(pts), backgroundColor: color, borderWidth: 0, pointRadius: radius, pointHoverRadius: radius, order };
}

function contourSets(loops, color, order) {
  return loops.map(loop => ({
    data: closed(loop), showLine: true, borderColor: color, borderWidth: 2,
    pointRadius: 0, tension: 0.35, fill: false, order
  }));
}

function refSets(values) {
  const styles = ["circle", "triangle", "rect", PLUS, "rectRot"];
  const radii = [7.5, 10, 11, 12, 9.5];
  const orders = [5, 3, 4, 2, 1];
  return refNames.map((name, i) => ({
    label: name,
    data: [{ x: refSiO2[i], y: values[i] }],
    pointStyle: styles[i], pointRadius: radii[i], pointHoverRadius: radii[i],
    backgroundColor: "#fff", borderColor: "#000", borderWidth: 2.7, order: orders[i]
  }));
}

function renderPanel(id, p) {
  const context = document.getElementById(id).getContext("2d");
  const tickStyle = { drawOnChartArea: false, drawTicks: true, tickLength: 6, color: "#000", lineWidth: 1.2 };
  const bottomRow = !!p.bottomRow;
  new Chart(context, {
    type: "scatter",
    data: {
      datasets: [
        scatterSet(p.blue, "rgba(31,119,180,0.72)", 2.9, 10),
        scatterSet(p.orange, "rgba(255,127,14,0.66)", 2.9, 9),
        ...contourSets(p.blueContours, BLUE, 8),
        ...contourSets(p.orangeContours, ORANGE, 7),
        scatterSet(p.black, "#000", 2.6, 6),
        ...refSets(p.refs)
      ]
    },
    options: {
      responsive: false,
      animation: false,
      events: [],
      layout: { padding: { top: 0, right: 16, bottom: bottomRow ? 0 : 41, left: 0 } },
      plugins: {
        legend: { display: false },
        tooltip: { enabled: false },
        title: {
          display: true, text: p.title, fullSize: false, color: "#000",
          font: { family: FONT, size: 42, weight: "normal", lineHeight: 1.0 },
          padding: { top: 10, bottom: 0 }
        },
        refLabels: { show: !!p.labels, values: p.refs }
      },
      scales: {
        x: {
          type: "linear", min: xRange[0], max: xRange[1],
          display: bottomRow,
          afterBuildTicks: s => { s.ticks = xTicks.map(v => ({ value: v })); },
          afterFit: s => { s.height = 44; },
          grid: tickStyle, border: { display: false },
          ticks: { color: "#000", font: { family: FONT, size: 37 }, padding: 2, maxRotation: 0, autoSkip: false }
        },
        y: {
          type: "linear", min: p.range[0], max: p.range[1],
          afterBuildTicks: s => { s.ticks = p.ticks.map(v => ({ value: v })); },
          afterFit: s => { s.width = p.axisWidth; },
          grid: tickStyle, border: { display: false },
          ticks: {
            color: "#000", font: { family: FONT, size: 37 }, padding: 6, labelOffset: 2, autoSkip: false,
            callback: (v, i) => p.tickLabels[i]
          }
        }
      }
    },
    plugins: [axesFrame, refLabels]
  });
}

renderPanel("al2o3_chart", { title: "AL2O3", range: al2o3Range, ticks: al2o3Ticks, tickLabels: al2o3TickLabels, axisWidth: 79,
  blue: al2o3Blue, orange: al2o3Orange, black: al2o3Black, blueContours: al2o3BlueContours, orangeContours: al2o3OrangeContours, refs: refAl2O3 });
renderPanel("cao_chart", { title: "CAO", range: caoRange, ticks: caoTicks, tickLabels: caoTickLabels, axisWidth: 91,
  blue: caoBlue, orange: caoOrange, black: caoBlack, blueContours: caoBlueContours, orangeContours: caoOrangeContours, refs: refCaO });
renderPanel("mgo_chart", { title: "MGO", range: mgoRange, ticks: mgoTicks, tickLabels: mgoTickLabels, axisWidth: 104,
  blue: mgoBlue, orange: mgoOrange, black: mgoBlack, blueContours: mgoBlueContours, orangeContours: mgoOrangeContours, refs: refMgO });
renderPanel("feo_chart", { title: "FEO", range: feoRange, ticks: feoTicks, tickLabels: feoTickLabels, axisWidth: 79, bottomRow: true,
  blue: feoBlue, orange: feoOrange, black: feoBlack, blueContours: feoBlueContours, orangeContours: feoOrangeContours, refs: refFeO });
renderPanel("na2o_chart", { title: "NA2O", range: na2oRange, ticks: na2oTicks, tickLabels: na2oTickLabels, axisWidth: 91, bottomRow: true, labels: true,
  blue: na2oBlue, orange: na2oOrange, black: na2oBlack, blueContours: na2oBlueContours, orangeContours: na2oOrangeContours, refs: refNa2O });
renderPanel("tio2_chart", { title: "TIO2", range: tio2Range, ticks: tio2Ticks, tickLabels: tio2TickLabels, axisWidth: 104, bottomRow: true,
  blue: tio2Blue, orange: tio2Orange, black: tio2Black, blueContours: tio2BlueContours, orangeContours: tio2OrangeContours, refs: refTiO2 });
</script>
</body>
</html>
